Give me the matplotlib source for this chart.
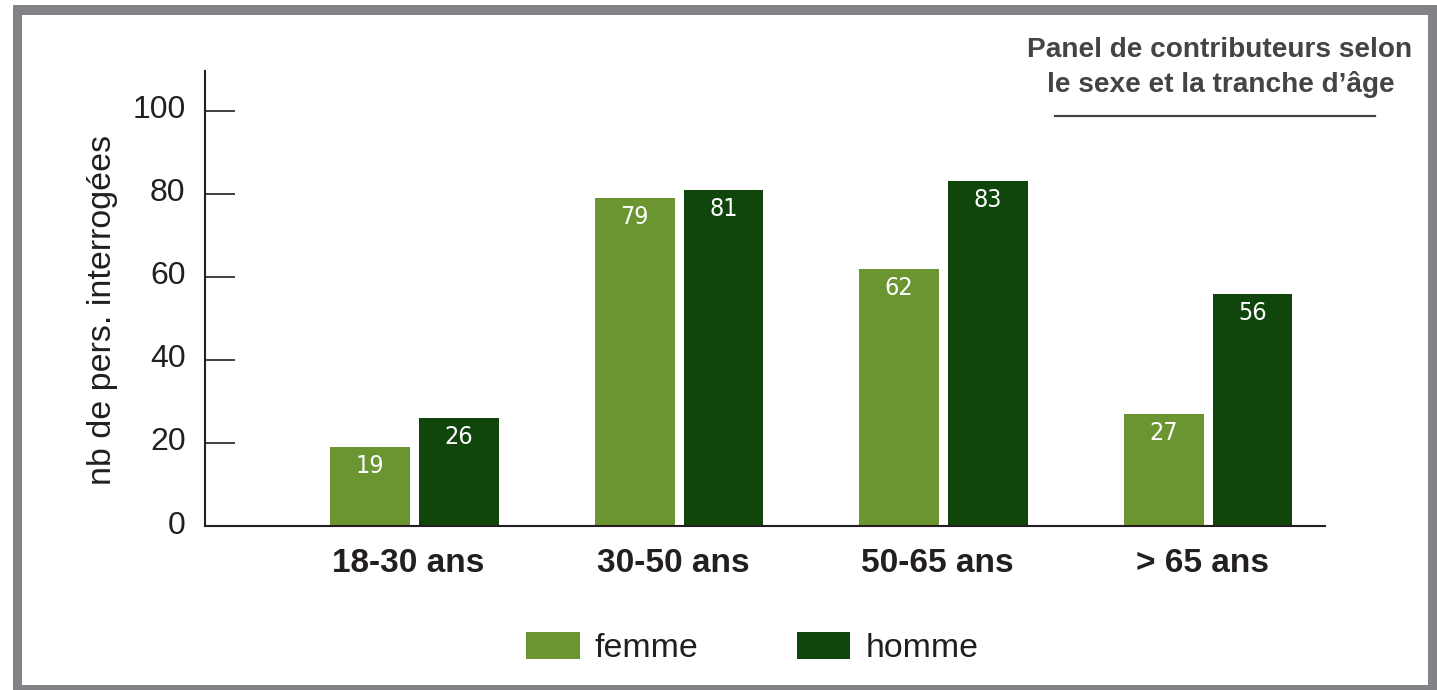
import matplotlib
matplotlib.use("Agg")
import matplotlib.pyplot as plt
from matplotlib.patches import Rectangle
import matplotlib.transforms as mtransforms
import numpy as np

categories = ["18-30 ans", "30-50 ans", "50-65 ans", "> 65 ans"]
femme = [19, 79, 62, 27]
homme = [26, 81, 83, 56]
series_names = ["femme", "homme"]
yticks = [0, 20, 40, 60, 80, 100]
title_lines = ["Panel de contributeurs selon", "le sexe et la tranche d\u2019âge"]
ylabel_text = "nb de pers. interrogées"

C_F = "#6A9531"
C_H = "#10450C"
DARK = "#231F20"
FRAME = "#818386"

W, H = 1437, 690
fig = plt.figure(figsize=(W / 100, H / 100), dpi=100)
plt.rcParams["font.family"] = ["Liberation Sans", "DejaVu Sans"]

def px(x0, y0, x1, y1):
    return (x0 / W, 1 - y1 / H, (x1 - x0) / W, (y1 - y0) / H)

# frame
for (x0, y0, x1, y1) in [(13, 5, 1437, 15), (13, 5, 22, 690), (1428, 5, 1437, 690), (13, 685, 1437, 690)]:
    l, b, w, h = px(x0, y0, x1, y1)
    fig.add_artist(Rectangle((l, b), w, h, transform=fig.transFigure, color=FRAME, lw=0, zorder=0))

ax = fig.add_axes([205 / W, 1 - 526 / H, (1325 - 205) / W, (526 - 71) / H])
x = np.arange(len(categories))
bw = 0.302
off = 0.168
b1 = ax.bar(x - off, femme, bw, color=C_F, label=series_names[0])
b2 = ax.bar(x + off, homme, bw, color=C_H, label=series_names[1])
ax.set_xlim(-0.792, 3.442)
ax.set_ylim(0, 109.6)

for bars, vals in [(b1, femme), (b2, homme)]:
    for r, v in zip(bars, vals):
        ax.annotate(str(v), (r.get_x() + r.get_width() / 2, v), xytext=(0, -19),
                    textcoords="offset pixels", ha="center", va="center",
                    color="white", fontsize=18, family="DejaVu Sans",
                    fontstretch="condensed", fontweight="light")

for s in ["top", "right"]:
    ax.spines[s].set_visible(False)
for s in ["left", "bottom"]:
    ax.spines[s].set_color(DARK)
    ax.spines[s].set_linewidth(1.5)

ax.set_yticks(yticks)
ax.tick_params(axis="y", direction="in", length=21.6, width=1.2, color=DARK,
               labelsize=23, labelcolor=DARK, pad=14)
ax.set_xticks(x)
ax.set_xticklabels(categories, fontsize=24, fontweight="bold", color=DARK)
ax.tick_params(axis="x", length=0, pad=16)

# small offsets seen in the reference
for lab in ax.get_xticklabels():
    lab.set_transform(lab.get_transform() + mtransforms.ScaledTranslation(-6 / 100, 0, fig.dpi_scale_trans))
for lab in ax.get_yticklabels():
    lab.set_transform(lab.get_transform() + mtransforms.ScaledTranslation(0, 4 / 100, fig.dpi_scale_trans))

ax.set_ylabel(ylabel_text, fontsize=24.5, color=DARK)
ax.yaxis.set_label_coords((118 - 205) / 1120, (526 - 310) / 455)

fig.text(1220 / W, 1 - 57 / H, title_lines[0], ha="center", va="baseline", fontsize=20.2,
         fontweight="bold", color="#444444")
fig.text(1221 / W, 1 - 92 / H, title_lines[1], ha="center", va="baseline", fontsize=20.2,
         fontweight="bold", color="#444444")
fig.add_artist(plt.Line2D([1055 / W, 1375 / W], [1 - 116 / H, 1 - 116 / H],
                          transform=fig.transFigure, color="#444444", lw=1.6))

leg = fig.legend(handles=[b1, b2], labels=series_names, loc="center",
                 bbox_to_anchor=(752 / W, 1 - 648 / H), ncol=2, frameon=False,
                 fontsize=24.4, handlelength=1.59, handleheight=0.85, handletextpad=0.44,
                 columnspacing=2.9)
for t in leg.get_texts():
    t.set_color(DARK)

fig.savefig("out.png", dpi=100, facecolor="white")
